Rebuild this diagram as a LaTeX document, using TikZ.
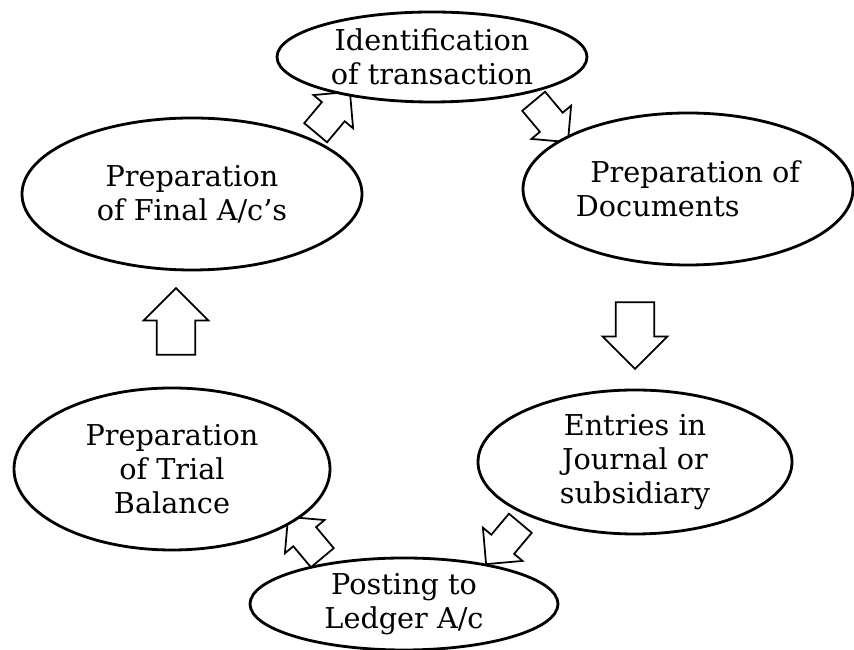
\documentclass[tikz,border=0pt]{standalone}
\usepackage{fontspec}
\setmainfont{DejaVu Serif}
\usepackage{tikz}
\usetikzlibrary{shapes.geometric, shapes.arrows, positioning, calc, backgrounds}
\tikzstyle{stage} = [ellipse, draw=black, line width=2.4pt, fill=white, inner sep=0pt, align=center, font=\fontsize{24.5}{29}\selectfont]
\tikzstyle{bigarrow} = [single arrow, draw=black, line width=1.5pt, fill=white, inner xsep=0pt, inner ysep=0.55cm, minimum height=2cm, single arrow head extend=0.4cm]
\tikzstyle{smallarrow} = [bigarrow, inner ysep=0.42cm, minimum height=1.6cm, single arrow head extend=0.33cm]

\begin{document}
\begin{tikzpicture}[x=0.03cm, y=0.03cm]
    \useasboundingbox (0,0) rectangle (854,650);
    % Stages of the cycle
    \node (ident) [stage, minimum width=9.3cm, minimum height=2.7cm] at (432,593) {Identification\\of transaction};
    \node (docs) [stage, minimum width=9.9cm, minimum height=4.56cm, align=left] at (688,461) {\hspace*{0.5em}Preparation of\\Documents};
    \node (journal) [stage, minimum width=9.42cm, minimum height=4.32cm] at (635,188) {Entries in\\Journal or\\subsidiary};
    \node (ledger) [stage, minimum width=9.24cm, minimum height=2.76cm] at (404,46) {Posting to\\Ledger A/c};
    \node (trial) [stage, minimum width=9.48cm, minimum height=4.86cm] at (172,181) {Preparation\\of Trial\\Balance};
    \node (final) [stage, minimum width=10.2cm, minimum height=4.56cm] at (192,456) {Preparation\\of Final A/c's};

    % Block arrows
    \begin{pgfonlayer}{background}
    \node (a1) [smallarrow, rotate=50] at (328,532) {};
    \node (a2) [smallarrow, rotate=-50] at (546,534) {};
    \node (a3) [bigarrow, rotate=-90] at (635,324) {};
    \node (a4) [smallarrow, rotate=-130] at (508,112) {};
    \node (a5) [smallarrow, rotate=130] at (310,107) {};
    \node (a6) [bigarrow, rotate=90] at (176,319) {};
    \end{pgfonlayer}
\end{tikzpicture}
\end{document}
